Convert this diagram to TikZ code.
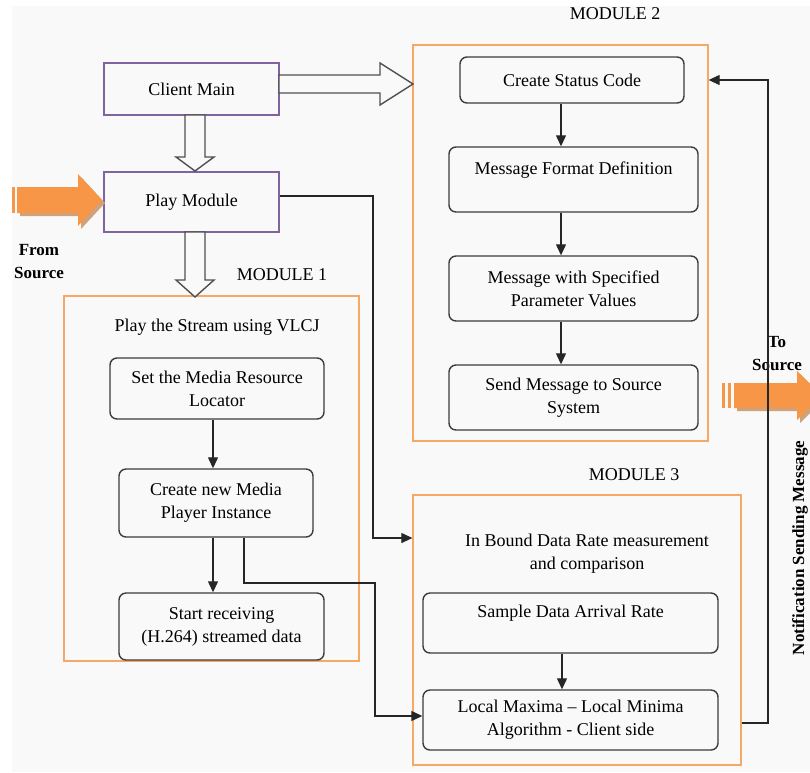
\documentclass[tikz,border=0pt]{standalone}
\usepackage{fontspec}
\setmainfont{Liberation Serif}
\usetikzlibrary{arrows.meta}
\definecolor{bgc}{HTML}{F9F9F9}
\definecolor{purp}{HTML}{8064A2}
\definecolor{orng}{HTML}{F79646}
\definecolor{orbox}{HTML}{F7A766}
\definecolor{shad}{HTML}{CFA27A}
\definecolor{dgray}{HTML}{3C3C3C}
\begin{document}
\begin{tikzpicture}[x=1pt,y=-1pt,
  txt/.style={font=\fontsize{18}{23}\selectfont, align=center, inner sep=0pt},
  lbl/.style={font=\fontsize{17}{23}\selectfont\bfseries, align=center, inner sep=0pt},
  pbox/.style={draw=purp, line width=1.2pt, fill=bgc, txt},
  rbox/.style={draw=dgray, line width=1.4pt, fill=bgc, rounded corners=7pt, txt},
  modbox/.style={draw=orbox, line width=1.3pt, inner sep=0pt},
  conn/.style={draw=black!85, line width=1.2pt, -{Triangle[length=11pt,width=10pt]}},
  hollow/.style={draw=dgray!90, line width=1.4pt, fill=bgc, line join=miter},
  fat/.style={fill=orng},
  fatsh/.style={fill=shad}]
\useasboundingbox (0,0) rectangle (810,772);
\clip (0,0) rectangle (810,772);
\fill[white] (0,0) rectangle (810,772);
\fill[bgc] (12,6) rectangle (810,772);

% module frames
\node[modbox, minimum width=295pt, minimum height=365pt] (m1) at (211.5,478.5) {};
\node[modbox, minimum width=295pt, minimum height=396pt] (m2) at (560.5,243) {};
\node[modbox, minimum width=328pt, minimum height=270pt] (m3) at (577,630) {};

\node[txt] (m1t) at (282,275) {MODULE 1};
\node[txt] (m2t) at (615,14) {MODULE 2};
\node[txt] (m3t) at (634,475) {MODULE 3};

% purple boxes
\node[pbox, minimum width=175pt, minimum height=52pt] (cm) at (191.5,89) {Client Main};
\node[pbox, minimum width=175pt, minimum height=60pt] (pm) at (191.5,202) {Play Module};

% module 1
\node[txt] (vlcj) at (217,327) {Play the Stream using VLCJ};
\node[rbox, minimum width=214pt, minimum height=61pt] (setml) at (217,388.5) {Set the Media Resource\\Locator};
\node[rbox, minimum width=194pt, minimum height=68pt] (cmpi) at (216,503) {Create new Media\\Player Instance};
\node[rbox, minimum width=205pt, minimum height=67pt] (strt) at (221.5,626.5) {Start receiving\\(H.264) streamed data};

% module 2
\node[rbox, minimum width=224pt, minimum height=46pt] (csc) at (572,80) {Create Status Code};
\node[rbox, minimum width=249pt, minimum height=65pt] (mfd) at (573.5,179.5) {Message Format Definition\\\mbox{}};
\node[rbox, minimum width=249pt, minimum height=65pt] (msp) at (573.5,288.5) {Message with Specified\\Parameter Values};
\node[rbox, minimum width=249pt, minimum height=65pt] (sms) at (573.5,397.5) {Send Message to Source\\System};

% module 3
\node[txt] (ibd) at (587,553.5) {In Bound Data Rate measurement\\and comparison};
\node[rbox, minimum width=295pt, minimum height=60pt] (sdar) at (570.5,623) {Sample Data Arrival Rate\\\mbox{}};
\node[rbox, minimum width=295pt, minimum height=60pt] (lmax) at (570.5,720) {Local Maxima \textendash{} Local Minima\\Algorithm - Client side};

% hollow block arrows
\draw[hollow] (185,115) -- (185,157) -- (176,157) -- (195,171) -- (214,157) -- (205,157) -- (205,115) -- cycle;
\draw[hollow] (185,232) -- (185,280) -- (176,280) -- (195,297) -- (214,280) -- (205,280) -- (205,232) -- cycle;
\draw[hollow] (279,75) -- (380,75) -- (380,63) -- (413,84) -- (380,105) -- (380,93) -- (279,93) -- cycle;

% orange arrows
\begin{scope}[shift={(3,3)}]
\fill[fatsh] (17,187) -- (78,187) -- (78,174) -- (102,200) -- (78,226) -- (78,213) -- (17,213) -- cycle;
\fill[fatsh] (734,383) -- (797,383) -- (797,371) -- (822,395.5) -- (797,420) -- (797,408) -- (734,408) -- cycle;
\end{scope}
\fill[fat] (12,187) rectangle (15,213);
\fill[fat] (17,187) -- (78,187) -- (78,174) -- (102,200) -- (78,226) -- (78,213) -- (17,213) -- cycle;
\fill[fat] (722,383) rectangle (725,408);
\fill[fat] (728,383) rectangle (731,408);
\fill[fat] (734,383) -- (797,383) -- (797,371) -- (822,395.5) -- (797,420) -- (797,408) -- (734,408) -- cycle;

% labels
\node[lbl] (from) at (39,262) {From\\Source};
\node[lbl] (to) at (777,354) {To\\Source};
\node[lbl, rotate=90] (notif) at (800,548) {Notification Sending Message};

% connectors
\coordinate (ax1) at (213,0);
\coordinate (ax2) at (561,0);
\coordinate (ax3) at (562,0);
\draw[conn] (setml.south -| ax1) -- (cmpi.north -| ax1);
\draw[conn] (cmpi.south -| ax1) -- (strt.north -| ax1);
\draw[conn] (csc.south -| ax2) -- (mfd.north -| ax2);
\draw[conn] (mfd.south -| ax2) -- (msp.north -| ax2);
\draw[conn] (msp.south -| ax2) -- (sms.north -| ax2);
\draw[conn] (sdar.south -| ax3) -- (lmax.north -| ax3);

\coordinate (c1) at (375,583);
\draw[conn] ([xshift=28pt]cmpi.south) |- (c1) |- ([yshift=4pt]lmax.west);
\coordinate (c2) at (373,538);
\draw[conn] ([yshift=6pt]pm.east) -| (c2) -- (c2 -| m3.west);
\coordinate (c3) at (768,723);
\coordinate (c4) at (768,80);
\draw[conn] (c3 -| m3.east) -- (c3) -- (c4) -- (c4 -| m2.east);
\end{tikzpicture}
\end{document}
